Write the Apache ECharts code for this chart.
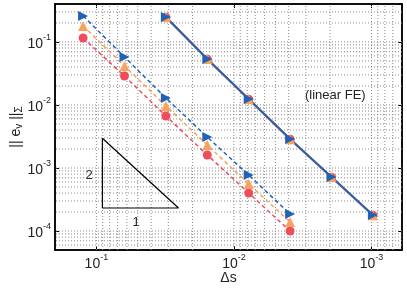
<!DOCTYPE html>
<html><head><meta charset="utf-8">
<script src="https://cdn.jsdelivr.net/npm/echarts@6/dist/echarts.min.js"></script>
<style>html,body{margin:0;padding:0;background:#fff}#c{width:407px;height:288px}</style>
</head><body><div id="c"></div>
<script>
// Data
const xDashed = [1/8, 1/16, 1/32, 1/64, 1/128, 1/256];
const xSolid = [1/32, 1/64, 1/128, 1/256, 1/512, 1/1024];
const blueDashed = [0.259, 0.0578, 0.0129, 0.0031, 7.74e-4, 1.86e-4];
const orangeDashed = [0.1795, 0.0416, 0.00964, 0.00232, 5.57e-4, 1.39e-4];
const redDashed = [0.1157, 0.0288, 0.00668, 0.00161, 4.01e-4, 1.0e-4];
const blueSolid = [0.249, 0.0537, 0.01245, 0.00288, 7.19e-4, 1.79e-4];
const orangeSolid = [0.248, 0.0535, 0.0124, 0.00287, 7.17e-4, 1.785e-4];
const redSolid = [0.247, 0.0533, 0.01235, 0.00286, 7.15e-4, 1.78e-4];
const slopeTriX = [0.0905, 0.0905, 0.0253, 0.0905];
const slopeTriY = [2.96e-3, 2.32e-4, 2.32e-4, 2.96e-3];
const xTickLabels = {'-1': '-1', '-2': '-2', '-3': '-3'};
const yTickLabels = {'-1': '-1', '-2': '-2', '-3': '-3', '-4': '-4'};
const X_MIN = 6e-4, X_MAX = 0.2, Y_MIN = 5e-5, Y_MAX = 0.4;

const BLUE = '#2262b6', ORANGE = '#f6a35e', RED = '#ef4d5d';
const FONT = 'Liberation Sans';

function zip(xs, ys) { return xs.map((x, i) => [x, ys[i]]); }
function powLabel(map) {
  return function (v) {
    const e = Math.round(Math.log10(v));
    if (Math.abs(Math.log10(v) - e) > 1e-6) return '';
    const k = String(e);
    return map[k] !== undefined ? '{b|10}{s|' + map[k] + '}' : '';
  };
}
const rich = {
  b: {fontSize: 14, fontFamily: FONT, color: '#222', lineHeight: 18, verticalAlign: 'bottom'},
  s: {fontSize: 9, fontFamily: FONT, color: '#222', lineHeight: 18, verticalAlign: 'top'}
};

const gridStyle = {color: '#8a8a8a', type: [1, 2], width: 1};

// grid lines (decades and 2..9 sub-decades)
const gridSeries = [];
for (let e = -5; e <= 0; e++) for (let m = 1; m <= 9; m++) {
  const v = m * Math.pow(10, e);
  if (v > X_MIN * 1.001 && v < X_MAX * 0.999) {
    gridSeries.push({type: 'line', data: [[v, Y_MIN], [v, Y_MAX]], symbol: 'none', silent: true,
      lineStyle: gridStyle, z: 1, animation: false});
  }
  if (v > Y_MIN * 1.001 && v < Y_MAX * 0.999) {
    gridSeries.push({type: 'line', data: [[X_MIN, v], [X_MAX, v]], symbol: 'none', silent: true,
      lineStyle: gridStyle, z: 1, animation: false});
  }
}

function dashedSeries(name, data, color, symbol, size, rot) {
  return {name, type: 'line', data, symbol, symbolSize: size, symbolRotate: rot || 0,
    itemStyle: {color}, lineStyle: {color, width: 1.5, type: [4, 3]}, z: 5, animation: false};
}
function solidSeries(name, data, color, symbol, size, rot) {
  return {name, type: 'line', data, symbol, symbolSize: size, symbolRotate: rot || 0,
    itemStyle: {color}, lineStyle: {color, width: 2}, z: 5, animation: false};
}

const option = {
  animation: false,
  grid: {left: 55, right: 5, top: 4, bottom: 38, show: true, borderColor: '#000', borderWidth: 1.5,
    containLabel: false, outerBoundsMode: 'none'},
  xAxis: [{
    type: 'log', inverse: true, min: X_MIN, max: X_MAX, logBase: 10,
    name: 'Δs', nameLocation: 'middle', nameGap: 21, nameMoveOverlap: false,
    nameTextStyle: {fontSize: 14, fontFamily: FONT, color: '#222'},
    axisLine: {show: true, lineStyle: {color: '#000', width: 1.5}},
    axisTick: {inside: true, length: 4, lineStyle: {color: '#000'}},
    axisLabel: {formatter: powLabel(xTickLabels), rich, margin: 3, showMinLabel: false, showMaxLabel: false},
    splitLine: {show: false}
  }, {
    type: 'log', inverse: true, min: X_MIN, max: X_MAX, position: 'top',
    axisLine: {show: true, lineStyle: {color: '#000', width: 1.5}},
    axisTick: {inside: true, length: 4, lineStyle: {color: '#000'}},
    axisLabel: {show: false}, splitLine: {show: false}
  }],
  yAxis: [{
    type: 'log', min: Y_MIN, max: Y_MAX, logBase: 10,
    name: '{n||| e}{sub|v}{n| ||}{sub|Σ}', nameLocation: 'middle', nameGap: 31, nameRotate: 90,
    nameMoveOverlap: false,
    nameTextStyle: {rich: {
      n: {fontSize: 14, fontFamily: FONT, color: '#222'},
      sub: {fontSize: 10, fontFamily: FONT, color: '#222', padding: [6, 0, 0, 0]}
    }},
    axisLine: {show: true, lineStyle: {color: '#000', width: 1.5}},
    axisTick: {inside: true, length: 4, lineStyle: {color: '#000'}},
    axisLabel: {formatter: powLabel(yTickLabels), rich, margin: 4, showMinLabel: false, showMaxLabel: false},
    splitLine: {show: false}
  }, {
    type: 'log', min: Y_MIN, max: Y_MAX, position: 'right',
    axisLine: {show: true, lineStyle: {color: '#000', width: 1.5}},
    axisTick: {inside: true, length: 4, lineStyle: {color: '#000'}},
    axisLabel: {show: false}, splitLine: {show: false}
  }],
  graphic: [
    {type: 'text', left: 305, top: 89, style: {text: '(linear FE)', fontSize: 13, fontFamily: FONT, fill: '#222', backgroundColor: '#fff'}},
    {type: 'text', x: 89, y: 175, style: {text: '2', fontSize: 13, fontFamily: FONT, fill: '#222', align: 'center', verticalAlign: 'middle'}},
    {type: 'text', x: 136, y: 222, style: {text: '1', fontSize: 13, fontFamily: FONT, fill: '#222', align: 'center', verticalAlign: 'middle'}}
  ],
  series: gridSeries.concat([
    {type: 'line', data: zip(slopeTriX, slopeTriY), symbol: 'none', lineStyle: {color: '#000', width: 1.2}, z: 3, silent: true},
    dashedSeries('r1', zip(xDashed, redDashed), RED, 'circle', 9),
    dashedSeries('o1', zip(xDashed, orangeDashed), ORANGE, 'triangle', 10),
    dashedSeries('b1', zip(xDashed, blueDashed), BLUE, 'triangle', 10, -90),
    solidSeries('r2', zip(xSolid, redSolid), RED, 'circle', 9),
    solidSeries('o2', zip(xSolid, orangeSolid), ORANGE, 'triangle', 10),
    solidSeries('b2', zip(xSolid, blueSolid), BLUE, 'triangle', 10, -90)
  ])
};
const chart = echarts.init(document.getElementById('c'), null, {renderer: 'canvas'});
chart.setOption(option);
</script></body></html>
